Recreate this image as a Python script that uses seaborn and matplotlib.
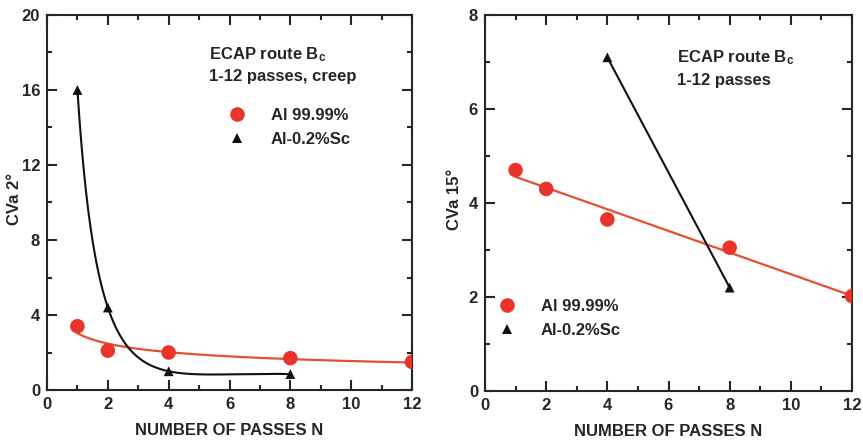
import numpy as np
import pandas as pd
import matplotlib
matplotlib.use("Agg")
import matplotlib.pyplot as plt
import seaborn as sns
from matplotlib.ticker import MultipleLocator
from matplotlib.lines import Line2D

sns.set_style("ticks")
plt.rcParams["font.family"] = ["Liberation Sans", "DejaVu Sans"]
plt.rcParams["font.weight"] = "bold"
plt.rcParams["mathtext.fontset"] = "custom"
plt.rcParams["mathtext.rm"] = "Liberation Sans:bold"
plt.rcParams["mathtext.it"] = "Liberation Sans:bold"
plt.rcParams["mathtext.bf"] = "Liberation Sans:bold"

# CVa 2 degrees (creep) vs number of ECAP passes
passes_al = [1, 2, 4, 8, 12]
cva2_al = [3.4, 2.1, 2.0, 1.7, 1.5]
passes_sc = [1, 2, 4, 8]
cva2_sc = [16.0, 4.4, 1.0, 0.85]

# CVa 15 degrees vs number of ECAP passes
cva15_al = [4.7, 4.3, 3.65, 3.05, 2.02]
passes_sc15 = [4, 8]
cva15_sc = [7.1, 2.2]

labels = ["Al 99.99%", "Al-0.2%Sc"]
RED = "#e8342a"
RED_LINE = "#e4502e"
BLACK = "#111111"
FS = 12

fig = plt.figure(figsize=(8.63, 4.48), dpi=100)
ax1 = fig.add_axes([47 / 863, 58 / 448, 365 / 863, 375 / 448])
ax2 = fig.add_axes([485 / 863, 57 / 448, 367 / 863, 376 / 448])

df_al2 = pd.DataFrame({"N": passes_al, "CVa": cva2_al})
df_sc2 = pd.DataFrame({"N": passes_sc, "CVa": cva2_sc})
df_al15 = pd.DataFrame({"N": passes_al, "CVa": cva15_al})
df_sc15 = pd.DataFrame({"N": passes_sc15, "CVa": cva15_sc})

# --- left panel: power-law fit for pure Al, smooth curve through Al-Sc points
xa = np.linspace(1, 12, 200)
b, loga = np.polyfit(np.log(passes_al), np.log(cva2_al), 1)
sns.lineplot(x=xa, y=np.exp(loga) * xa ** b, ax=ax1, color=RED_LINE, lw=1.6)
coef = np.polyfit(np.log2(passes_sc), cva2_sc, 3)
xs = np.linspace(1, 8, 200)
sns.lineplot(x=xs, y=np.polyval(coef, np.log2(xs)), ax=ax1, color=BLACK, lw=1.5)
sns.scatterplot(data=df_al2, x="N", y="CVa", ax=ax1, color=RED, s=110,
                edgecolor="none", zorder=5)
sns.scatterplot(data=df_sc2, x="N", y="CVa", ax=ax1, color=BLACK, marker="^",
                s=50, edgecolor="none", zorder=5)

# --- right panel: linear fit for pure Al, straight segment for Al-Sc
slope, icpt = np.polyfit(passes_al, cva15_al, 1)
sns.lineplot(x=xa, y=slope * xa + icpt, ax=ax2, color=RED_LINE, lw=1.6)
sns.lineplot(data=df_sc15, x="N", y="CVa", ax=ax2, color=BLACK, lw=1.5)
sns.scatterplot(data=df_al15, x="N", y="CVa", ax=ax2, color=RED, s=110,
                edgecolor="none", zorder=5)
sns.scatterplot(data=df_sc15, x="N", y="CVa", ax=ax2, color=BLACK, marker="^",
                s=50, edgecolor="none", zorder=5)

handles = [
    Line2D([], [], ls="none", marker="o", color=RED, markersize=10.5,
           markeredgewidth=0),
    Line2D([], [], ls="none", marker="^", color=BLACK, markersize=7,
           markeredgewidth=0),
]

for ax, ymax, ymaj, ylabel, lx in [(ax1, 20, 4, "CVa 2°", -0.068),
                                   (ax2, 8, 2, "CVa 15°", -0.063)]:
    ax.set_xlim(0, 12)
    ax.set_ylim(0, ymax)
    ax.xaxis.set_major_locator(MultipleLocator(2))
    ax.xaxis.set_minor_locator(MultipleLocator(1))
    ax.yaxis.set_major_locator(MultipleLocator(ymaj))
    ax.yaxis.set_minor_locator(MultipleLocator(ymaj / 2))
    ax.tick_params(which="both", direction="in", top=True, right=True,
                   width=1.5, labelsize=FS, pad=5)
    ax.tick_params(which="major", length=7)
    ax.tick_params(which="minor", length=3.5)
    for sp in ax.spines.values():
        sp.set_linewidth(1.5)
        sp.set_visible(True)
    ax.set_xlabel("NUMBER OF PASSES N", fontsize=FS, fontweight="bold",
                  labelpad=8)
    ax.set_ylabel(ylabel, fontsize=FS, fontweight="bold")
    ax.yaxis.set_label_coords(lx, 0.51)
    for lab in ax.get_xticklabels() + ax.get_yticklabels():
        lab.set_fontweight("bold")

leg_kw = dict(frameon=False, prop={"weight": "bold", "size": FS},
              handlelength=2.0, handletextpad=1.0, borderpad=0,
              labelspacing=0.55)

ax1.text(5.33, 17.9, r"ECAP route B$_{\mathregular{c}}$", fontsize=FS,
         fontweight="bold", va="center", ha="left")
ax1.text(5.33, 16.7, "1-12 passes, creep", fontsize=FS, fontweight="bold",
         va="center", ha="left")
ax1.legend(handles, labels, loc="center left", bbox_to_anchor=(0.453, 0.70),
           **leg_kw)

ax2.text(6.28, 7.1, r"ECAP route B$_{\mathregular{c}}$", fontsize=FS,
         fontweight="bold", va="center", ha="left")
ax2.text(6.28, 6.6, "1-12 passes", fontsize=FS, fontweight="bold",
         va="center", ha="left")
ax2.legend(handles, labels, loc="center left", bbox_to_anchor=(-0.007, 0.193),
           **leg_kw)

fig.savefig("out.png", dpi=100)
